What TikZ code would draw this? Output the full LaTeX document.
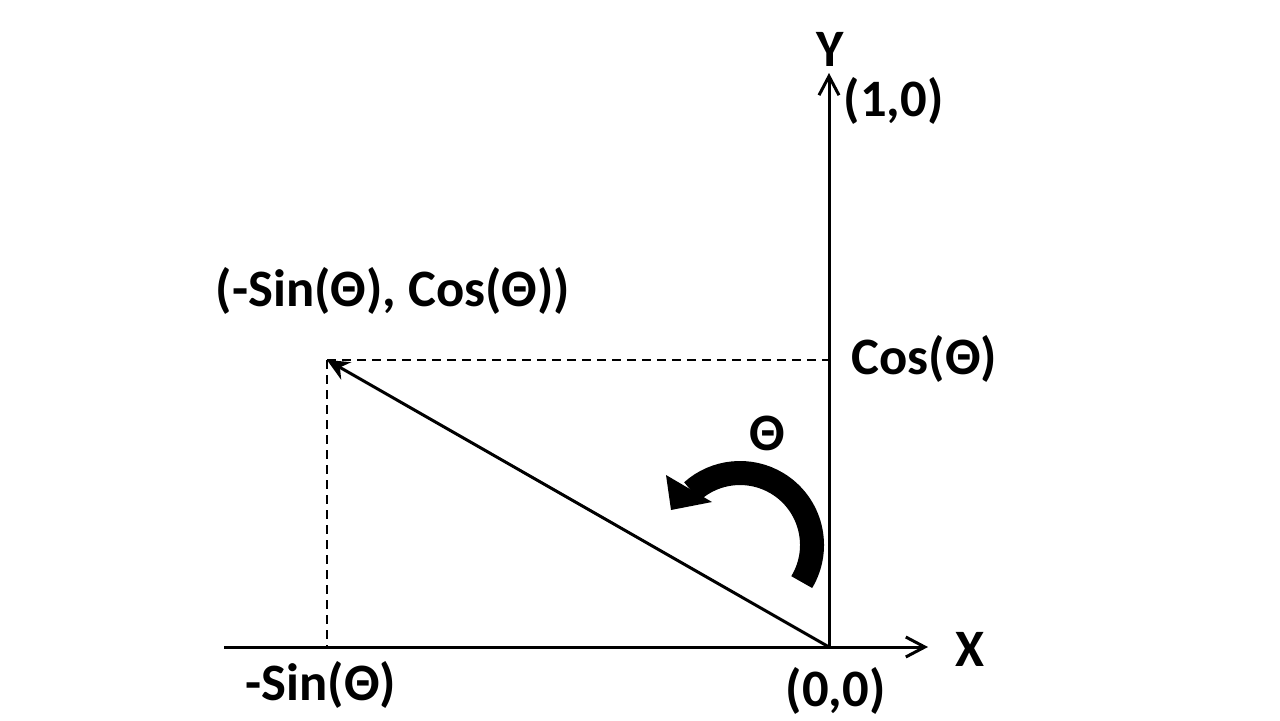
\documentclass[tikz,border=0pt]{standalone}
\usepackage{fontspec}
\setmainfont{Carlito}
\usetikzlibrary{arrows.meta}
\begin{document}
\begin{tikzpicture}[x=0.5pt,y=0.5pt,
  lbl/.style={inner sep=0pt,font=\fontsize{26.3pt}{30pt}\selectfont\bfseries},
  axis/.style={line width=1.5pt,-{Straight Barb[length=9.5pt,width=10pt,line width=1.5pt]}},
  vec/.style={line width=1.5pt,-{Stealth[length=11pt,width=10pt]}},
  dashline/.style={line width=1.1pt,dash pattern=on 4.5pt off 3pt}]
\useasboundingbox (0,0) rectangle (1280,720);
\coordinate (O) at (829,73);
\coordinate (xs) at (224,73);
\coordinate (xe) at (928,73);
\coordinate (ye) at (829,647);
\coordinate (P) at (327,360);
\coordinate (Py) at (829,360);
\coordinate (Px) at (327,73);
\coordinate (ac) at (740,175);
% dashed projections
\draw[dashline] (P) -- (Py);
\draw[dashline] (P) -- (Px);
% axes
\draw[axis] (xs) -- (xe);
\draw[axis] (O) -- (ye);
% vector
\draw[vec] (O) -- (P);
% rotation arrow
\draw[line width=12pt] (ac) ++(-31:36pt) arc[start angle=-31, end angle=132, radius=36pt];
\fill (671,210) -- (666,245) -- (712,218) -- cycle;
% labels
\node[lbl] (ylab) at (830,671) {Y};
\node[lbl] (xlab) at (970,71) {X};
\node[lbl] (one) at (893.5,619) {(1,0)};
\node[lbl] (zero) at (835.5,29) {(0,0)};
\node[lbl] (cos) at (924.5,361) {Cos(Θ)};
\node[lbl] (pt) at (393,429) {(-Sin(Θ), Cos(Θ))};
\node[lbl] (sin) at (321,35) {-Sin(Θ)};
\node[lbl] (th) at (767,287) {Θ};
\end{tikzpicture}
\end{document}
